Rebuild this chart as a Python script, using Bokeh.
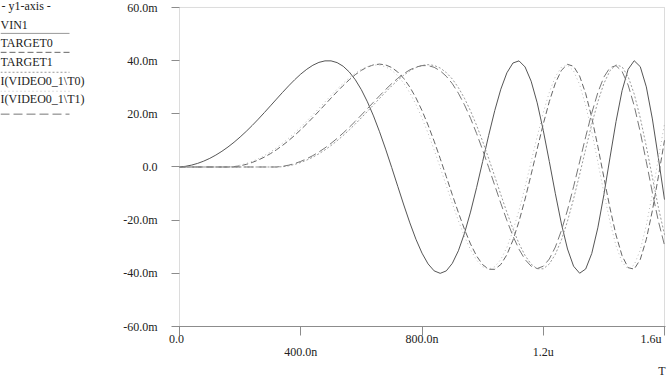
from bokeh.plotting import figure
from bokeh.models import Range1d, FixedTicker, LinearAxis, Title, BoxAnnotation
from bokeh.layouts import row
from bokeh.embed import file_html
from bokeh.resources import INLINE
from bokeh.core.properties import value

# ---- data (time in ns, values in mV) ----
t_ns = [0, 20, 40, 60, 80, 100, 120, 140, 160, 180, 200, 220, 240, 260, 280, 300, 320, 340, 360, 380,
        400, 420, 440, 460, 480, 500, 520, 540, 560, 580, 600, 620, 640, 660, 680, 700, 720, 740, 760, 780,
        800, 820, 840, 860, 880, 900, 920, 940, 960, 980, 1000, 1020, 1040, 1060, 1080, 1100, 1120, 1140,
        1160, 1180, 1200, 1220, 1240, 1260, 1280, 1300, 1320, 1340, 1360, 1380, 1400, 1420, 1440, 1460,
        1480, 1500, 1520, 1540, 1560, 1580, 1600]

vin1 = [0.0, 0.26, 0.71, 1.36, 2.21, 3.25, 4.49, 5.91, 7.52, 9.31, 11.27, 13.38, 15.63, 18.00, 20.47,
        22.99, 25.53, 28.06, 30.50, 32.82, 34.94, 36.77, 38.27, 39.35, 39.92, 39.92, 39.26, 37.89, 35.75,
        32.82, 29.06, 24.50, 19.21, 13.24, 6.73, -0.17, -7.26, -14.30, -21.03, -27.17, -32.40, -36.45,
        -39.07, -40.0, -39.09, -36.25, -31.52, -25.00, -16.97, -7.79, 2.03, 11.92, 21.22, 29.27, 35.42,
        39.11, 39.92, 37.63, 32.28, 24.14, 13.80, 2.05, -10.07, -21.42, -30.85, -37.31, -39.96, -38.37,
        -32.53, -22.89, -10.45, 3.42, 17.06, 28.70, 36.74, 39.97, 37.74, 30.14, 18.08, 3.20, -12.27]

target0 = [0.0, 0.0, 0.0, 0.0, 0.0, 0.0, 0.0, 0.0, 0.0,
           0.10, 0.45, 0.98, 1.71, 2.62, 3.72, 5.01, 6.48, 8.12, 9.93,
           11.90, 14.02, 16.26, 18.60, 21.02, 23.47, 25.93, 28.34, 30.65, 32.81,
           34.73, 36.35, 37.61, 38.41, 38.70, 38.39, 37.42, 35.72, 33.27, 30.03,
           26.01, 21.23, 15.77, 9.72, 3.21, -3.58, -10.45, -17.14, -23.40, -28.94,
           -33.46, -36.73, -38.46, -38.49, -36.68, -33.00, -27.54, -20.47, -12.09, -2.83,
           6.78, 16.15, 24.62, 31.57, 36.38, 38.60, 37.89, 34.18, 27.60, 18.58,
           7.77, -3.90, -15.40, -25.59, -33.38, -37.88, -38.42, -34.80, -27.22, -16.39,
           -3.48, 10.04]

target1 = [0.0, 0.0, 0.0, 0.0, 0.0, 0.0, 0.0, 0.0, 0.0, 0.0, 0.0, 0.0, 0.0, 0.0, 0.0, 0.0, 0.0,
           0.10, 0.45, 0.98, 1.70, 2.61, 3.70, 4.98, 6.44, 8.08, 9.88,
           11.84, 13.94, 16.17, 18.50, 20.91, 23.35, 25.80, 28.20, 30.49, 32.64,
           34.55, 36.16, 37.41, 38.21, 38.50, 38.19, 37.23, 35.54, 33.10, 29.87,
           25.87, 21.12, 15.69, 9.67, 3.19, -3.57, -10.40, -17.06, -23.28, -28.79,
           -33.29, -36.54, -38.27, -38.30, -36.49, -32.83, -27.40, -20.36, -12.02, -2.82,
           6.75, 16.06, 24.50, 31.40, 36.19, 38.40, 37.70, 34.00, 27.46, 18.48,
           7.73, -3.88, -15.32, -25.46]

i_video_t0 = [0.0, 0.0, 0.0, 0.0, 0.0, 0.0, 0.0, 0.0,
              0.0, 0.25, 0.68, 1.31, 2.12, 3.12, 4.31, 5.68, 7.22, 8.94,
              10.82, 12.84, 15.01, 17.28, 19.65, 22.07, 24.51, 26.93, 29.28, 31.51,
              33.54, 35.30, 36.74, 37.78, 38.33, 38.32, 37.69, 36.38, 34.32, 31.50,
              27.90, 23.52, 18.44, 12.71, 6.46, -0.17, -6.97, -13.73, -20.19, -26.08,
              -31.10, -34.99, -37.51, -38.40, -37.52, -34.80, -30.26, -24.00, -16.29, -7.48,
              1.95, 11.44, 20.38, 28.10, 34.00, 37.54, 38.32, 36.13, 30.99, 23.17,
              13.24, 1.97, -9.67, -20.57, -29.61, -35.82, -38.36, -36.83, -31.23, -21.97,
              -10.03, 3.28, 16.37]

i_video_t1 = [0.0, 0.0, 0.0, 0.0, 0.0, 0.0, 0.0, 0.0, 0.0, 0.0, 0.0, 0.0, 0.0, 0.0, 0.0, 0.0,
              0.0, 0.25, 0.68, 1.30, 2.11, 3.11, 4.29, 5.65, 7.18, 8.89,
              10.76, 12.78, 14.93, 17.19, 19.55, 21.96, 24.38, 26.79, 29.13, 31.34,
              33.36, 35.12, 36.55, 37.58, 38.13, 38.12, 37.50, 36.19, 34.14, 31.34,
              27.75, 23.40, 18.34, 12.64, 6.43, -0.16, -6.93, -13.66, -20.09, -25.95,
              -30.94, -34.81, -37.31, -38.20, -37.33, -34.62, -30.10, -23.88, -16.20, -7.44,
              1.94, 11.38, 20.27, 27.95, 33.83, 37.35, 38.12, 35.94, 30.83, 23.05,
              13.18, 1.96, -9.62, -20.46, -29.46]

series_names = ["VIN1", "TARGET0", "TARGET1", "I(VIDEO0_1\\T0)", "I(VIDEO0_1\\T1)"]
series_values = [vin1, target0, target1, i_video_t0, i_video_t1]

y_ticks = [-60, -40, -20, 0, 20, 40, 60]
y_tick_labels = ["-60.0m", "-40.0m", "-20.0m", "0.0", "20.0m", "40.0m", "60.0m"]
x_ticks = [0, 400, 800, 1200, 1600]
x_tick_labels = ["0.0", "400.0n", "800.0n", "1.2u", "1.6u"]
x_axis_title = "T"
legend_title = " - y1-axis -"

# ---- styles ----
FONT = "Liberation Serif"
TXT = "#222222"
AX = "#8c8c8c"
NB = "\u00a0"
styles = [
    dict(color="#555555", dash="solid"),
    dict(color="#666666", dash="6 3"),
    dict(color="#999999", dash="2 2"),
    dict(color="#bbbbbb", dash="1 3"),
    dict(color="#777777", dash="9 4"),
]

# ---- main plot ----
xpad = 1600 / 489.0
ypad = 7 * 120 / 320.0
p = figure(width=550, height=377,
           x_range=Range1d(x_ticks[0] - xpad, x_ticks[-1] + xpad),
           y_range=Range1d(y_ticks[0], y_ticks[-1] + ypad),
           output_backend="svg", toolbar_location=None,
           min_border_left=54, min_border_right=5, min_border_top=0, min_border_bottom=50)
p.grid.visible = False
p.outline_line_color = None
p.background_fill_color = "white"
p.border_fill_color = "white"

p.add_layout(BoxAnnotation(left=x_ticks[0], right=x_ticks[-1], bottom=y_ticks[0], top=y_ticks[-1],
                           fill_alpha=0, line_color=AX, line_width=1))

p.yaxis.ticker = FixedTicker(ticks=y_ticks)
p.yaxis.major_label_overrides = {v: s for v, s in zip(y_ticks, y_tick_labels)}
p.yaxis.major_label_text_font = FONT
p.yaxis.major_label_text_font_size = "12px"
p.yaxis.major_label_text_color = TXT
p.yaxis.major_tick_out = 7
p.yaxis.major_tick_in = 1
p.yaxis.minor_tick_out = 0
p.yaxis.minor_tick_in = 0
p.yaxis.major_label_standoff = 14
p.yaxis.axis_line_color = None
p.yaxis.major_tick_line_color = AX

row1 = {0: x_tick_labels[0] + NB + NB, 400: "", 800: x_tick_labels[2], 1200: "",
        1600: x_tick_labels[4] + NB + NB + NB}
p.xaxis.ticker = FixedTicker(ticks=x_ticks)
p.xaxis.major_label_overrides = row1
p.xaxis.major_label_text_font = FONT
p.xaxis.major_label_text_font_size = "12px"
p.xaxis.major_label_text_color = TXT
p.xaxis.major_tick_out = 9
p.xaxis.major_tick_in = 0
p.xaxis.minor_tick_out = 0
p.xaxis.minor_tick_in = 0
p.xaxis.major_label_standoff = -4
p.xaxis.axis_line_color = AX
p.xaxis.major_tick_line_color = AX

ax2 = LinearAxis(ticker=FixedTicker(ticks=[x_ticks[1], x_ticks[3]]),
                 major_label_overrides={x_ticks[1]: x_tick_labels[1], x_ticks[3]: x_tick_labels[3]},
                 major_label_text_font=FONT, major_label_text_font_size="12px",
                 major_label_text_color=TXT, axis_line_color=None, major_tick_line_color=None,
                 minor_tick_line_color=None, major_tick_out=0, major_tick_in=0,
                 minor_tick_out=0, minor_tick_in=0, major_label_standoff=-4)
p.add_layout(ax2, "below")
p.add_layout(Title(text=x_axis_title, align="right", text_font=FONT, text_font_size="12px",
                   text_font_style="normal", text_color=TXT, standoff=0), "below")

for vals, st in zip(series_values, styles):
    p.line(t_ns, vals, line_color=st["color"], line_dash=st["dash"], line_width=1)

# ---- legend panel (data units = pixels) ----
leg = figure(width=120, height=377, x_range=Range1d(0, 120), y_range=Range1d(327, 0),
             output_backend="svg", toolbar_location=None, min_border=0,
             x_axis_type=None, y_axis_type=None)
leg.outline_line_color = None
leg.grid.visible = False

label_y = [25, 43, 62, 81, 99]
line_y = [33, 52, 72, 91, 114]
leg.text(x=[1], y=[6], text=[legend_title], text_font=value(FONT), text_font_size="12px",
         text_baseline="middle", text_color=TXT)
leg.text(x=[0] * len(series_names), y=label_y, text=series_names, text_font=value(FONT),
         text_font_size="12px", text_baseline="middle", text_color=TXT)
for ly, st in zip(line_y, styles):
    leg.line([0, 69], [ly, ly], line_color=st["color"] if st["dash"] != "solid" else "#999999",
             line_dash=st["dash"], line_width=1)

layout = row(leg, p)
open("out.html", "w").write(file_html(layout, INLINE))
